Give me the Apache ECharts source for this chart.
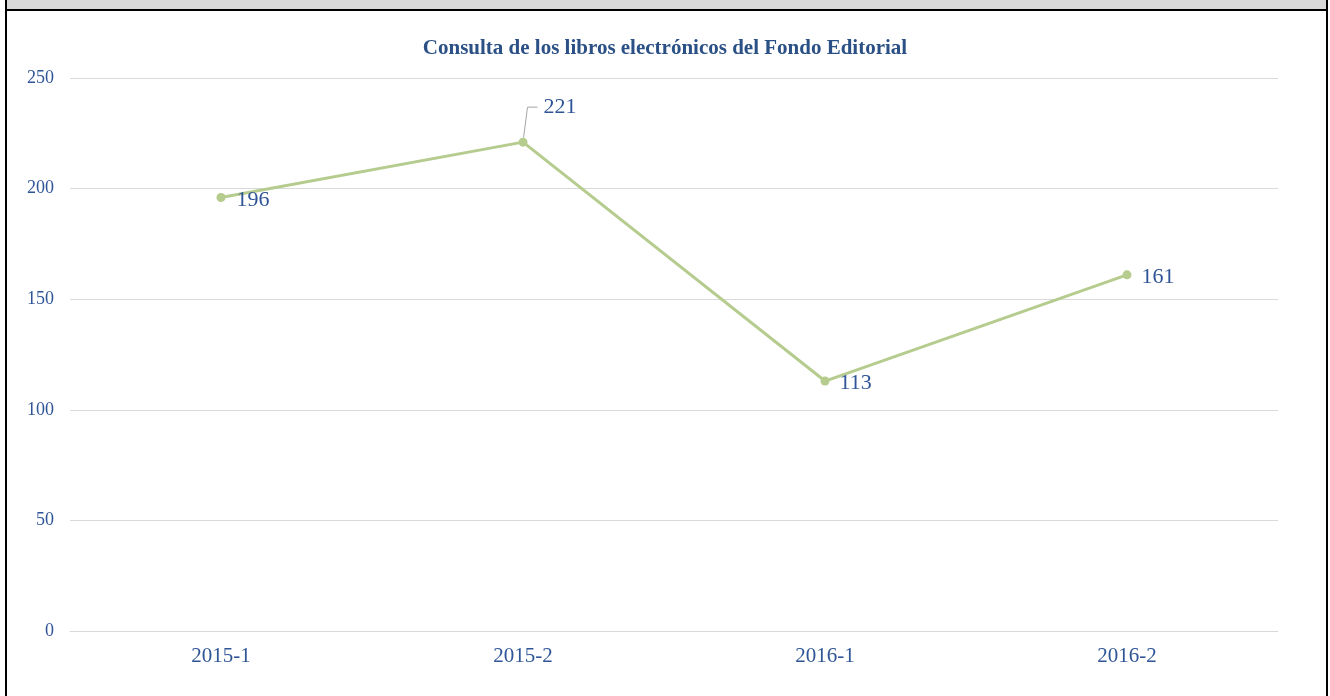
<!DOCTYPE html>
<html>
<head>
<meta charset="utf-8">
<script src="https://cdn.jsdelivr.net/npm/echarts@6/dist/echarts.min.js"></script>
<style>
  html, body { margin: 0; padding: 0; background: #ffffff; }
  #wrap { position: relative; width: 1330px; height: 696px; overflow: hidden; }
  #chart { position: absolute; left: 0; top: 0; width: 1330px; height: 696px; }
  .band { position: absolute; left: 7px; top: 0; width: 1319px; height: 9px; background: #d9d9d9; }
  .hline { position: absolute; left: 5px; top: 9px; width: 1323px; height: 2px; background: #000; }
  .vl { position: absolute; left: 5px; top: 0; width: 2px; height: 696px; background: #000; }
  .vr { position: absolute; left: 1326px; top: 0; width: 2px; height: 696px; background: #000; }
</style>
</head>
<body>
<div id="wrap">
  <div id="chart"></div>
  <div class="band"></div>
  <div class="hline"></div>
  <div class="vl"></div>
  <div class="vr"></div>
</div>
<script>
// Semesters and e-book consultations per semester
const semesters = ['2015-1', '2015-2', '2016-1', '2016-2'];
const consultas = [196, 221, 113, 161];
const yTicks = { min: 0, max: 250, interval: 50 };

const titleText = 'Consulta de los libros electrónicos del Fondo Editorial';
const textBlue = '#2f5597';
const lineGreen = '#b5cc8e';
const serif = '"Liberation Serif", "Times New Roman", serif';

// Per-point label placement around each marker (distance plus a small nudge)
const labelPlacement = [
  { distance: 11, dx: 0, dy: 3, guide: false },
  { distance: 4, dx: 6, dy: -35, guide: true },
  { distance: 10, dx: 0, dy: 2, guide: false },
  { distance: 10, dx: 0, dy: 2, guide: false }
];

const chart = echarts.init(document.getElementById('chart'), null, { renderer: 'canvas' });

chart.setOption({
  animation: false,
  backgroundColor: '#ffffff',
  title: {
    text: titleText,
    left: 'center',
    top: 33,
    textStyle: { fontFamily: serif, fontSize: 21, fontWeight: 'bold', color: '#2a5085' }
  },
  grid: { left: 70, right: 52, top: 78, bottom: 65 },
  xAxis: {
    type: 'category',
    data: semesters,
    boundaryGap: true,
    axisLine: { show: true, lineStyle: { color: '#d9d9d9', width: 1 } },
    axisTick: { show: false },
    axisLabel: { fontFamily: serif, fontSize: 21, color: textBlue, margin: 15 }
  },
  yAxis: {
    type: 'value',
    min: yTicks.min,
    max: yTicks.max,
    interval: yTicks.interval,
    axisLine: { show: false },
    axisTick: { show: false },
    splitLine: { lineStyle: { color: '#d9d9d9', width: 1 } },
    axisLabel: { fontFamily: serif, fontSize: 18, color: textBlue, margin: 16 }
  },
  series: [{
    type: 'line',
    data: consultas.map((v, i) => ({
      value: v,
      label: labelPlacement[i].guide ? {
        show: true,
        position: 'right',
        distance: labelPlacement[i].distance,
        // invisible box with left padding keeps a gap after the leader line
        padding: [0, 0, 0, 6],
        backgroundColor: 'rgba(255,255,255,0)'
      } : {
        show: true,
        position: 'right',
        distance: labelPlacement[i].distance
      },
      labelLine: { show: labelPlacement[i].guide }
    })),
    symbol: 'circle',
    symbolSize: 9,
    lineStyle: { color: lineGreen, width: 3 },
    itemStyle: { color: lineGreen },
    label: { fontFamily: serif, fontSize: 22, color: textBlue },
    labelLine: { length2: 10, lineStyle: { color: '#a6a6a6', width: 1 } },
    labelLayout: function (params) {
      const p = labelPlacement[params.dataIndex];
      return { dx: p.dx, dy: p.dy };
    }
  }]
});
</script>
</body>
</html>
